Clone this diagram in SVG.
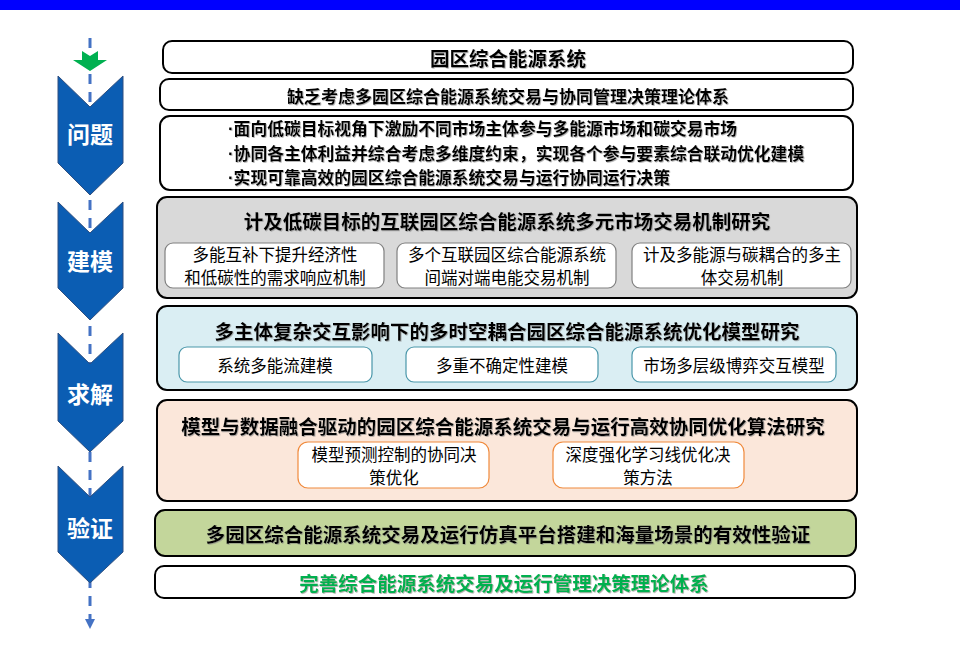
<svg xmlns="http://www.w3.org/2000/svg" width="960" height="650" viewBox="0 0 960 650">
<defs>
<style>
.t{font-family:"Noto Sans CJK SC","Noto Sans",sans-serif;text-anchor:middle;dominant-baseline:central;fill:#000}
.b{font-weight:bold;filter:url(#sh)}
.main{stroke:#000;stroke-width:2}
.chev{fill:#0B5DB3;stroke:#2F4F80;stroke-width:1}
.ct{font-family:"Noto Sans CJK SC",sans-serif;font-weight:bold;font-size:23px;fill:#fff;text-anchor:middle;dominant-baseline:central}
.sg{fill:#fff;stroke:#808080;stroke-width:1.2}
.sb{fill:#fff;stroke:#4A97AA;stroke-width:1.2}
.so{fill:#fff;stroke:#F08A3C;stroke-width:1.2}
.s{font-size:16.5px}
.dot{font-family:"Liberation Sans",sans-serif}
</style>
<filter id="sh" x="-5%" y="-30%" width="110%" height="160%">
<feDropShadow dx="0.8" dy="0.8" stdDeviation="0.4" flood-color="#808080" flood-opacity="0.7"/>
</filter>
<marker id="ah" markerWidth="10" markerHeight="10" refX="5" refY="5" orient="auto" markerUnits="userSpaceOnUse">
<path d="M0,0 L10,5 L0,10 Z" fill="#4472C4"/>
</marker>
</defs>
<rect x="0" y="0" width="960" height="10" fill="#0000FF"/>
<g id="connectors">
<line x1="90" y1="38" x2="90" y2="624" stroke="#4472C4" stroke-width="3" stroke-dasharray="10 8" marker-end="url(#ah)"/>
<polygon points="82,51 90,56 98,51 98,60 107,60 90,71 73,60 82,60" fill="#00B050"/>
</g>
<g id="chevrons">
<g id="chev1"><polygon class="chev" points="58,76 90,107 123,76 123,163 90,195 58,163"/><text class="ct" x="90" y="133">问题</text></g>
<g id="chev2"><polygon class="chev" points="58,202 90,233 123,202 123,288 90,320 58,288"/><text class="ct" x="90" y="260">建模</text></g>
<g id="chev3"><polygon class="chev" points="58,333 90,364 123,333 123,421 90,452 58,421"/><text class="ct" x="90" y="393">求解</text></g>
<g id="chev4"><polygon class="chev" points="58,466 90,497 123,466 123,552 90,583 58,552"/><text class="ct" x="90" y="527">验证</text></g>
</g>
<g id="box1"><rect class="main" x="163" y="41" width="690" height="32" rx="9" fill="#fff"/><text class="t b" x="508" y="57" font-size="19.5">园区综合能源系统</text></g>
<g id="box2"><rect class="main" x="160" y="79" width="693" height="31" rx="9" fill="#fff"/><text class="t b" x="508" y="95" font-size="17">缺乏考虑多园区综合能源系统交易与协同管理决策理论体系</text></g>
<g id="box3"><rect class="main" x="160" y="116" width="693" height="74" rx="10" fill="#fff"/>
<text class="t b" x="228" y="128" font-size="16.8" style="text-anchor:start"><tspan class="dot">·</tspan>面向低碳目标视角下激励不同市场主体参与多能源市场和碳交易市场</text>
<text class="t b" x="228" y="153" font-size="16.8" style="text-anchor:start"><tspan class="dot">·</tspan>协同各主体利益并综合考虑多维度约束，实现各个参与要素综合联动优化建模</text>
<text class="t b" x="228" y="177" font-size="16.8" style="text-anchor:start"><tspan class="dot">·</tspan>实现可靠高效的园区综合能源系统交易与运行协同运行决策</text>
</g>
<g id="box4"><rect class="main" x="157" y="197" width="700" height="101" rx="10" fill="#D9D9D9"/>
<text class="t b" x="507" y="220" font-size="19.5">计及低碳目标的互联园区综合能源系统多元市场交易机制研究</text>
<g id="box4a"><rect class="sg" x="165" y="243" width="219" height="45" rx="8"/><text class="t s" x="275" y="254">多能互补下提升经济性</text><text class="t s" x="275" y="277">和低碳性的需求响应机制</text></g>
<g id="box4b"><rect class="sg" x="397" y="243" width="219" height="45" rx="8"/><text class="t s" x="507" y="254">多个互联园区综合能源系统</text><text class="t s" x="507" y="277">间端对端电能交易机制</text></g>
<g id="box4c"><rect class="sg" x="632" y="243" width="219" height="45" rx="8"/><text class="t s" x="742" y="254">计及多能源与碳耦合的多主</text><text class="t s" x="742" y="277">体交易机制</text></g>
</g>
<g id="box5"><rect class="main" x="157" y="306" width="700" height="84" rx="10" fill="#DAEEF3"/>
<text class="t b" x="507" y="330" font-size="19.5">多主体复杂交互影响下的多时空耦合园区综合能源系统优化模型研究</text>
<g id="box5a"><rect class="sb" x="179" y="347" width="193" height="35" rx="8"/><text class="t s" x="275" y="365">系统多能流建模</text></g>
<g id="box5b"><rect class="sb" x="406" y="347" width="192" height="35" rx="8"/><text class="t s" x="502" y="365">多重不确定性建模</text></g>
<g id="box5c"><rect class="sb" x="632" y="347" width="204" height="35" rx="8"/><text class="t s" x="734" y="365">市场多层级博弈交互模型</text></g>
</g>
<g id="box6"><rect class="main" x="157" y="400" width="700" height="101" rx="10" fill="#FBE7DA"/>
<text class="t b" x="503" y="425" font-size="19.5">模型与数据融合驱动的园区综合能源系统交易与运行高效协同优化算法研究</text>
<g id="box6a"><rect class="so" x="298" y="442" width="191" height="46" rx="10"/><text class="t s" x="394" y="454">模型预测控制的协同决</text><text class="t s" x="394" y="477">策优化</text></g>
<g id="box6b"><rect class="so" x="553" y="442" width="191" height="46" rx="10"/><text class="t s" x="648" y="454">深度强化学习线优化决</text><text class="t s" x="648" y="477">策方法</text></g>
</g>
<g id="box7"><rect class="main" x="155" y="510" width="701" height="46" rx="10" fill="#C3D69B"/>
<text class="t b" x="508" y="533" font-size="19.5">多园区综合能源系统交易及运行仿真平台搭建和海量场景的有效性验证</text></g>
<g id="box8"><rect class="main" x="155" y="566" width="700" height="32" rx="9" fill="#fff"/>
<text class="t b" x="504" y="582" font-size="19.5" style="fill:#00B050">完善综合能源系统交易及运行管理决策理论体系</text></g>
</svg>
